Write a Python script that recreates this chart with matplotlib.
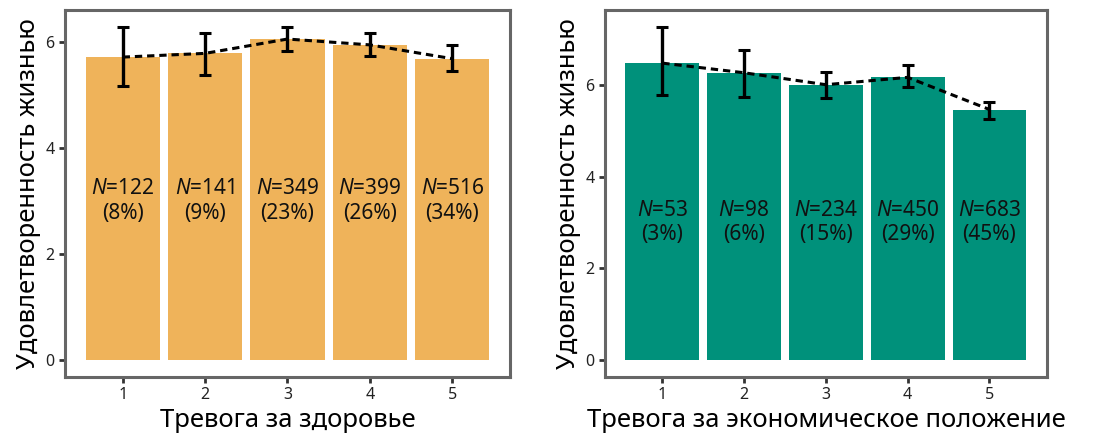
import matplotlib
matplotlib.use("Agg")
from matplotlib import pyplot as plt
import numpy as np

plt.rcParams['font.family'] = ['Noto Sans', 'DejaVu Sans']
plt.rcParams['mathtext.fontset'] = 'custom'
plt.rcParams['mathtext.it'] = 'Noto Sans:italic'
plt.rcParams['mathtext.rm'] = 'Noto Sans'

# данные: тревога за здоровье
levels = [1, 2, 3, 4, 5]
health_mean = [5.71, 5.78, 6.05, 5.94, 5.68]
health_lo = [5.17, 5.38, 5.82, 5.73, 5.44]
health_hi = [6.28, 6.17, 6.28, 6.17, 5.94]
health_n = [122, 141, 349, 399, 516]
health_pct = [8, 9, 23, 26, 34]

# тревога за экономическое положение
econ_mean = [6.47, 6.26, 6.00, 6.16, 5.46]
econ_lo = [5.78, 5.74, 5.72, 5.95, 5.26]
econ_hi = [7.26, 6.75, 6.28, 6.42, 5.63]
econ_n = [53, 98, 234, 450, 683]
econ_pct = [3, 6, 15, 29, 45]


def panel(ax, mean, lo, hi, n, pct, color, xlabel):
    x = np.array(levels)
    mean = np.array(mean)
    ax.bar(x, mean, width=0.9, color=color, zorder=1)
    ax.plot(x, mean, color="black", linestyle=(0, (2.4, 1.6)), linewidth=2.2, zorder=2)
    yerr = [mean - np.array(lo), np.array(hi) - mean]
    ax.errorbar(x, mean, yerr=yerr, fmt="none", ecolor="black",
                elinewidth=2.4, capsize=4.5, capthick=2.2, zorder=3)
    for xi, ni, pi in zip(x, n, pct):
        ax.text(xi, 3.0, "$N$=%d\n(%d%%)" % (ni, pi), ha="center", va="center",
                fontsize=15, linespacing=1.2, color="#111111", zorder=4)
    top = max(hi)
    pad = top * 0.05
    ax.set_ylim(-pad, top + pad)
    ax.set_xlim(0.3, 5.7)
    ax.set_xticks(levels)
    ax.set_yticks([0, 2, 4, 6])
    for s in ax.spines.values():
        s.set_color("#666666")
        s.set_linewidth(2.2)
    ax.tick_params(axis="both", colors="#333333", labelcolor="#222222",
                   labelsize=11.5, length=4, width=2)
    ax.set_xlabel(xlabel, fontsize=18.5, labelpad=3)
    ax.set_ylabel("Удовлетворенность жизнью", fontsize=18.5, labelpad=3)


fig = plt.figure(figsize=(11.05, 4.41), dpi=100)
ax1 = fig.add_axes([0.0588, 0.145, 0.4027, 0.832])
ax2 = fig.add_axes([0.5475, 0.145, 0.3998, 0.832])
panel(ax1, health_mean, health_lo, health_hi, health_n, health_pct,
      "#EFB35A", "Тревога за здоровье")
panel(ax2, econ_mean, econ_lo, econ_hi, econ_n, econ_pct,
      "#00917B", "Тревога за экономическое положение")
fig.savefig("out.png", dpi=100)
